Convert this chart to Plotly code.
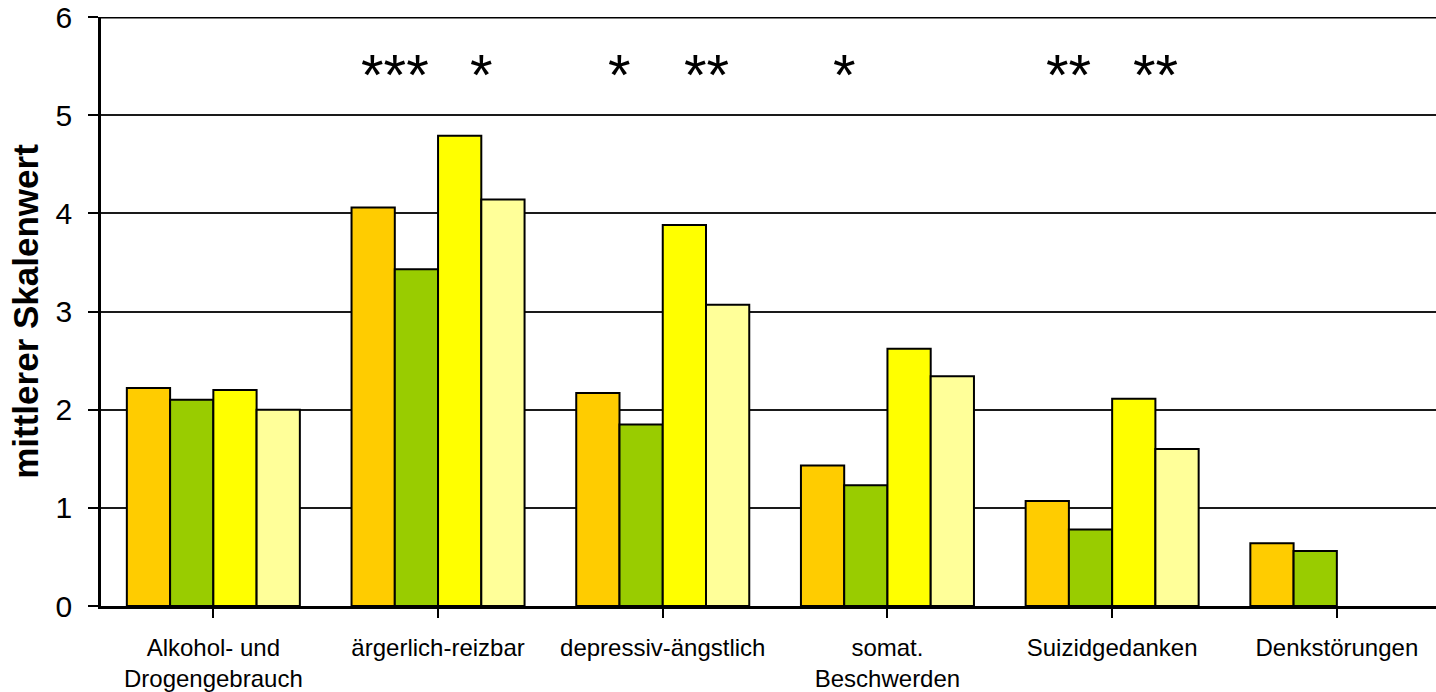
import plotly.graph_objects as go

# Skalen (x-Kategorien) und mittlere Skalenwerte je Gruppe
categories = [
    "Alkohol- und<br>Drogengebrauch",
    "ärgerlich-reizbar",
    "depressiv-ängstlich",
    "somat.<br>Beschwerden",
    "Suizidgedanken",
    "Denkstörungen",
]
series_names = ["Gruppe A", "Gruppe B", "Gruppe C", "Gruppe D"]
values_a = [2.22, 4.06, 2.17, 1.43, 1.07, 0.64]
values_b = [2.10, 3.43, 1.85, 1.23, 0.78, 0.56]
values_c = [2.20, 4.79, 3.88, 2.62, 2.11, None]
values_d = [2.00, 4.14, 3.07, 2.34, 1.60, None]
colors = ["#FFCC00", "#99CC00", "#FFFF00", "#FFFF99"]

# Signifikanzsterne: (Kategorie-Index, Vergleichspaar 0 = Balken 1/2, 1 = Balken 3/4, Text)
star_cats = [1, 1, 2, 2, 3, 4, 4]
star_pairs = [0, 1, 0, 1, 0, 0, 1]
star_texts = ["***", "*", "*", "**", "*", "**", "**"]

y_ticks = [0, 1, 2, 3, 4, 5, 6]

BARGAP = 0.23
n_series = 4
bar_w = (1 - BARGAP) / n_series

fig = go.Figure()
for name, vals, col in zip(series_names, [values_a, values_b, values_c, values_d], colors):
    fig.add_trace(go.Bar(
        x=list(range(len(categories))),
        y=vals,
        name=name,
        marker=dict(color=col, line=dict(color="black", width=2)),
    ))

for cat, pair, txt in zip(star_cats, star_pairs, star_texts):
    xpos = cat + (-bar_w if pair == 0 else bar_w)
    fig.add_annotation(
        x=xpos, y=5.45, xref="x", yref="y",
        text=txt, showarrow=False,
        font=dict(family="Liberation Sans, Arial", size=58, color="black"),
        xanchor="center", yanchor="middle", yshift=-4,
    )

# kräftige obere Rahmenlinie
fig.add_shape(type="line", xref="paper", yref="y", x0=0, x1=1, y0=6, y1=6,
              line=dict(color="black", width=3))

fig.update_layout(
    barmode="group",
    bargap=BARGAP,
    bargroupgap=0,
    showlegend=False,
    width=1436,
    height=692,
    margin=dict(l=101, r=0, t=17, b=84),
    paper_bgcolor="white",
    plot_bgcolor="white",
    font=dict(family="Liberation Sans, Arial", color="black"),
    xaxis=dict(
        range=[-0.5, -0.5 + 1335 / 224.7],
        tickmode="array",
        tickvals=list(range(len(categories))),
        ticktext=categories,
        tickfont=dict(size=24, color="black"),
        showgrid=False,
        showline=True, linecolor="black", linewidth=2.5,
        ticks="outside", ticklen=9, tickwidth=2, tickcolor="black",
        ticklabelstandoff=9,
        zeroline=False,
    ),
    yaxis=dict(
        range=[0, 6],
        tickmode="array",
        tickvals=y_ticks,
        tickfont=dict(size=30, color="black"),
        showgrid=True, gridcolor="#1a1a1a", gridwidth=1.6,
        showline=True, linecolor="black", linewidth=2.5,
        ticks="outside", ticklen=10, tickwidth=2, tickcolor="black",
        ticklabelstandoff=10,
        zeroline=False,
        title=dict(text="<b>mittlerer Skalenwert</b>",
                   font=dict(size=35, color="black"), standoff=7),
    ),
)

fig.write_html("out.html")
